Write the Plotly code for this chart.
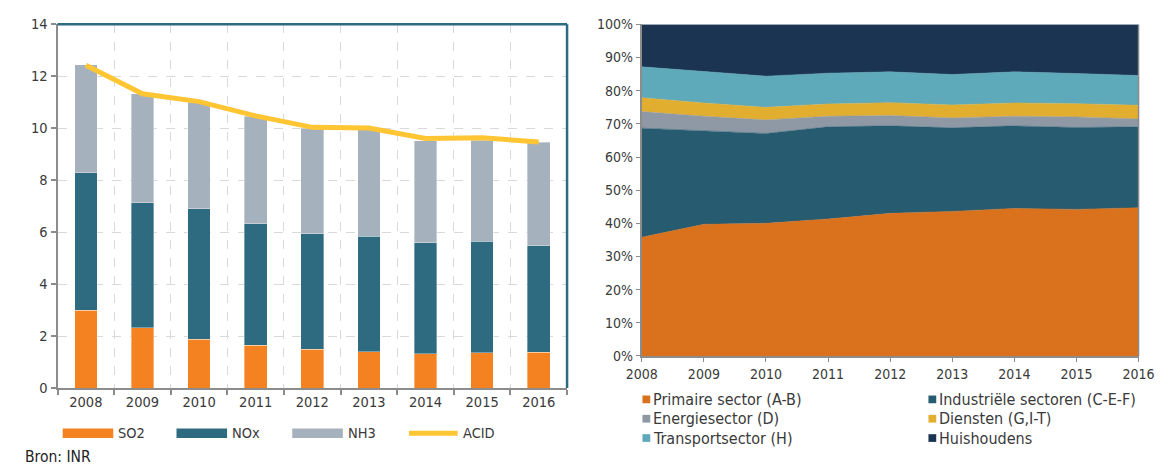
import plotly.graph_objects as go

W, H = 1175, 476

# ---------------- data: left chart ----------------
years = ["2008", "2009", "2010", "2011", "2012", "2013", "2014", "2015", "2016"]
so2 = [3.00, 2.32, 1.88, 1.65, 1.50, 1.40, 1.32, 1.35, 1.37]
nox = [5.28, 4.81, 5.01, 4.68, 4.44, 4.45, 4.27, 4.30, 4.10]
nh3 = [4.16, 4.20, 4.10, 4.12, 4.05, 4.10, 3.93, 3.88, 3.98]
acid = [12.42, 11.32, 11.02, 10.47, 10.03, 10.00, 9.60, 9.63, 9.47]
left_yticks = [0, 2, 4, 6, 8, 10, 12, 14]
left_legend = ["SO2", "NOx", "NH3", "ACID"]

# ---------------- data: right chart (shares, %) ----------------
years_num = [2008, 2009, 2010, 2011, 2012, 2013, 2014, 2015, 2016]
primaire = [35.8, 39.7, 40.0, 41.3, 43.0, 43.6, 44.5, 44.2, 44.7]
industrie = [32.9, 28.1, 27.1, 27.8, 26.4, 25.2, 24.9, 24.7, 24.4]
energie = [5.0, 4.5, 4.1, 3.2, 3.1, 3.0, 2.9, 3.2, 2.4]
diensten = [4.2, 4.0, 3.8, 3.7, 3.9, 3.9, 4.0, 4.0, 4.1]
transport = [9.3, 9.6, 9.4, 9.3, 9.3, 9.2, 9.4, 9.1, 9.0]
huishoudens = [12.8, 14.1, 15.6, 14.7, 14.3, 15.1, 14.3, 14.8, 15.4]
right_names = ["Primaire sector (A-B)", "Industriële sectoren (C-E-F)", "Energiesector (D)",
               "Diensten (G,I-T)", "Transportsector (H)", "Huishoudens"]
right_yticks = [0, 10, 20, 30, 40, 50, 60, 70, 80, 90, 100]
right_ticktext = [f"{v}%" for v in right_yticks]

FONT = "DejaVu Sans Condensed, DejaVu Sans"
TXT = "#3A3A3A"
AX = "#8C8C8C"

C_SO2, C_NOX, C_NH3, C_ACID = "#F58220", "#2E6A80", "#A6B1BE", "#FFC533"
C_PRIM, C_IND, C_EN, C_DI, C_TR, C_HU = "#D9711D", "#275B70", "#8E99A5", "#E2AE30", "#5FAABA", "#1B3452"


def px_x(p):
    return p / W


def px_y(p):
    return 1 - p / H


fig = go.Figure()

# left stacked bars
left_bar_series = [(so2, C_SO2), (nox, C_NOX), (nh3, C_NH3)]
for (vals, col), name in zip(left_bar_series, left_legend[:3]):
    fig.add_trace(go.Bar(x=years, y=vals, name=name,
                         marker=dict(color=col, line=dict(width=0.6, color="rgba(255,255,255,0.6)")),
                         width=0.4, showlegend=False, xaxis="x", yaxis="y"))
fig.add_trace(go.Scatter(x=years, y=acid, name=left_legend[3], mode="lines",
                         line=dict(color=C_ACID, width=5), showlegend=False, xaxis="x", yaxis="y"))

# right stacked areas
right_vals = [primaire, industrie, energie, diensten, transport, huishoudens]
right_cols = [C_PRIM, C_IND, C_EN, C_DI, C_TR, C_HU]
for name, vals, col in zip(right_names, right_vals, right_cols):
    fig.add_trace(go.Scatter(x=years_num, y=vals, name=name, mode="lines", stackgroup="one",
                             line=dict(width=0.5, color=col), fillcolor=col, showlegend=False,
                             xaxis="x2", yaxis="y2"))

fig.update_layout(
    width=W, height=H,
    margin=dict(l=0, r=0, t=0, b=0),
    paper_bgcolor="white", plot_bgcolor="white",
    barmode="stack",
    font=dict(family=FONT, size=14, color=TXT),
    showlegend=False,
    xaxis=dict(domain=[px_x(42.7), px_x(566.5)], type="category", tickson="boundaries",
               showgrid=True, gridcolor="#D9D9D9", griddash="dash", gridwidth=1,
               showline=True, linecolor=AX, linewidth=2, ticks="outside", ticklen=5,
               tickcolor=AX, tickwidth=2, tickfont=dict(size=14.5, color=TXT), anchor="y"),
    yaxis=dict(domain=[px_y(393.3), px_y(16.7)], range=[0, 14], tickvals=left_yticks,
               showgrid=True, gridcolor="#D9D9D9", griddash="dash", gridwidth=1,
               showline=True, linecolor=AX, linewidth=2, ticks="outside", ticklen=5,
               tickcolor=AX, tickwidth=2, zeroline=False, tickfont=dict(size=14.5, color=TXT),
               anchor="x"),
    xaxis2=dict(domain=[px_x(643.3), px_x(1154)], range=[2008, 2016], tickvals=years_num,
                showgrid=False, showline=True, linecolor=AX, linewidth=2, ticks="outside",
                ticklen=4, tickcolor=AX, tickwidth=1, tickfont=dict(size=14, color=TXT),
                anchor="y2", zeroline=False),
    yaxis2=dict(domain=[px_y(360), px_y(17)], range=[0, 100], tickvals=right_yticks,
                ticktext=right_ticktext, showgrid=False, showline=True, linecolor=AX,
                linewidth=2, ticks="outside", ticklen=4, tickcolor=AX, tickwidth=1,
                zeroline=False, tickfont=dict(size=14, color=TXT), anchor="x2"),
)

shapes = []
# left chart frame: top and right borders in dark teal
shapes.append(dict(type="line", xref="x domain", yref="y domain", x0=0, x1=1, y0=1, y1=1,
                   line=dict(color=C_NOX, width=2.5)))
shapes.append(dict(type="line", xref="x domain", yref="y domain", x0=1, x1=1, y0=0, y1=1,
                   line=dict(color=C_NOX, width=2.5)))
# right chart right border
shapes.append(dict(type="line", xref="x2 domain", yref="y2 domain", x0=1, x1=1, y0=0, y1=1,
                   line=dict(color=AX, width=1.5)))

annotations = []

# left legend (wide swatches)
leg_y = 440
left_leg_x = [48, 165, 284, 402]
left_leg_cols = [C_SO2, C_NOX, C_NH3, C_ACID]
for i, (name, col, x0) in enumerate(zip(left_legend, left_leg_cols, left_leg_x)):
    if i < 3:
        shapes.append(dict(type="rect", xref="paper", yref="paper", x0=px_x(x0), x1=px_x(x0 + 52),
                           y0=px_y(leg_y + 5), y1=px_y(leg_y - 5), fillcolor=col, line=dict(width=0)))
    else:
        shapes.append(dict(type="line", xref="paper", yref="paper", x0=px_x(x0 + 2), x1=px_x(x0 + 52),
                           y0=px_y(leg_y), y1=px_y(leg_y), line=dict(color=col, width=5)))
    annotations.append(dict(text=name, xref="paper", yref="paper", x=px_x(x0 + 55), y=px_y(leg_y),
                            xanchor="left", yanchor="middle", showarrow=False,
                            font=dict(size=14.5, color=TXT)))

# right legend (small squares, 2 columns)
col_x = [644, 938]
row_y = [405, 425, 445]
for i, (name, col) in enumerate(zip(right_names, right_cols)):
    cx = col_x[i % 2]
    ry = row_y[i // 2]
    shapes.append(dict(type="rect", xref="paper", yref="paper", x0=px_x(cx), x1=px_x(cx + 8),
                       y0=px_y(ry + 4), y1=px_y(ry - 4), fillcolor=col, line=dict(width=0)))
    annotations.append(dict(text=name, xref="paper", yref="paper", x=px_x(cx + 9), y=px_y(ry),
                            xanchor="left", yanchor="middle", showarrow=False,
                            font=dict(size=16, color=TXT)))

annotations.append(dict(text="Bron: INR", xref="paper", yref="paper", x=px_x(7), y=px_y(465),
                        xanchor="left", yanchor="middle", showarrow=False,
                        font=dict(size=15.5, color="#222222")))

fig.update_layout(shapes=shapes, annotations=annotations)

fig.write_html("out.html")
